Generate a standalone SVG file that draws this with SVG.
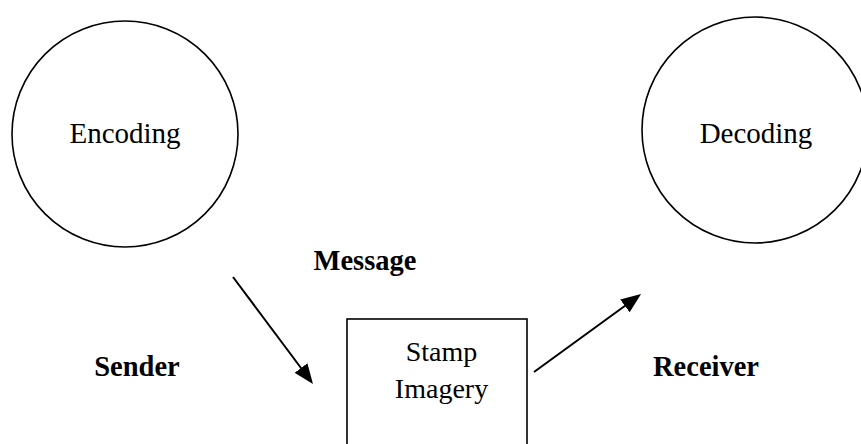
<svg xmlns="http://www.w3.org/2000/svg" width="861" height="444" viewBox="0 0 861 444">
<style>
.shape{fill:none;stroke:#000;stroke-width:1.6}
.lbl{font-family:"Liberation Serif","Times New Roman",serif;fill:#000;text-anchor:middle}
.n{font-size:29px}
.b{font-size:28.5px;font-weight:bold}
.s{font-size:28px}
.conn{stroke:#000;stroke-width:2;fill:none}
</style>
<defs>
<marker id="ah" viewBox="0 0 20 16" refX="10" refY="8" markerWidth="20" markerHeight="16" markerUnits="userSpaceOnUse" orient="auto">
<path d="M0,0 L20,8 L0,16 z" fill="#000"/>
</marker>
</defs>
<rect width="861" height="444" fill="#fff"/>
<g id="encoding">
<circle class="shape" cx="125" cy="134" r="113"/>
<text class="lbl n" x="125" y="143">Encoding</text>
</g>
<g id="decoding">
<circle class="shape" cx="755" cy="130" r="113"/>
<text class="lbl n" x="756" y="143">Decoding</text>
</g>
<g id="stamp">
<rect class="shape" x="347" y="319" width="180" height="140"/>
<text class="lbl s" x="441.5" y="360.5">Stamp</text>
<text class="lbl s" x="441.5" y="397.5">Imagery</text>
</g>
<g id="message"><text class="lbl b" x="365" y="270">Message</text></g>
<g id="sender"><text class="lbl b" x="137" y="376">Sender</text></g>
<g id="receiver"><text class="lbl b" x="706" y="376">Receiver</text></g>
<g id="connectors">
<line class="conn" x1="233" y1="277" x2="307" y2="376" marker-end="url(#ah)"/>
<line class="conn" x1="534" y1="372" x2="633" y2="300" marker-end="url(#ah)"/>
</g>
</svg>
